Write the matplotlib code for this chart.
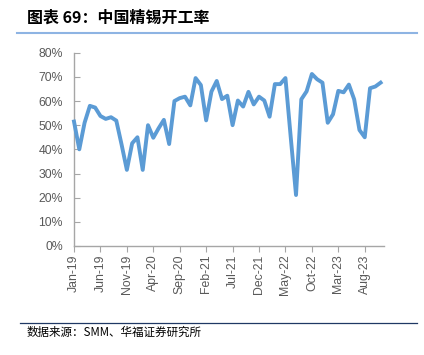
import matplotlib
matplotlib.use("Agg")
import matplotlib.pyplot as plt
from matplotlib.ticker import FuncFormatter, FixedLocator
import pandas as pd

plt.rcParams['font.family'] = ['Liberation Sans', 'Noto Sans CJK SC', 'DejaVu Sans']

# Data: monthly refined tin operating rate (%), Jan-19 .. Nov-23
months = pd.date_range("2019-01-01", periods=59, freq="MS")
rate = [51.5, 40.0, 51.0, 58.0, 57.3, 53.8, 52.6, 53.3, 51.9, 42.0,
        31.5, 42.5, 45.0, 31.5, 50.0, 44.8, 48.7, 52.2, 42.2, 60.0,
        61.2, 61.8, 58.2, 69.5, 66.6, 52.0, 63.9, 68.3, 60.8, 62.2,
        50.0, 60.2, 57.7, 63.8, 58.6, 61.8, 60.2, 53.5, 67.0, 67.0,
        69.5, 45.0, 21.1, 60.7, 64.0, 71.2, 69.0, 67.6, 51.0, 54.5,
        64.2, 63.6, 66.8, 60.7, 48.0, 45.0, 65.3, 66.0, 67.6]
tick_step = 5
yticks = [0, 10, 20, 30, 40, 50, 60, 70, 80]

title = "图表 69：中国精锡开工率"
source = "数据来源：SMM、华福证券研究所"

fig = plt.figure(figsize=(4.24, 3.55), dpi=100)
ax = fig.add_axes([74/424, 1-246/355, (384.3-74)/424, (246-52.7)/355])

x = list(range(len(rate)))
ax.plot(x, rate, color="#5B9BD5", lw=2.8, solid_joinstyle="round",
        clip_on=False, zorder=3)

ax.set_ylim(0, 80)
ax.set_xlim(0, 58.7)
ax.yaxis.set_major_locator(FixedLocator(yticks))
ax.yaxis.set_major_formatter(FuncFormatter(lambda v, p: f"{int(v)}%"))
tpos = list(range(0, len(rate), tick_step))
ax.set_xticks(tpos)
ax.set_xticklabels([months[i].strftime("%b-%y") for i in tpos], rotation=90)

for s in ["top", "right"]:
    ax.spines[s].set_visible(False)
for s in ["left", "bottom"]:
    ax.spines[s].set_color("#A6A6A6")
    ax.spines[s].set_linewidth(1.0)
ax.tick_params(axis="y", direction="in", length=4, color="#A6A6A6",
               labelsize=8.8, labelcolor="#595959", pad=8)
ax.tick_params(axis="x", direction="out", length=4, color="#A6A6A6",
               labelsize=8.8, labelcolor="#595959", pad=2)

# Title and decorations
fig.text(27/424, 1-18/355, title, fontsize=11.5, fontweight="bold",
         va="center", ha="left", family=['Noto Sans CJK SC', 'DejaVu Sans'])
fig.add_artist(plt.Line2D([17/424, 417/424], [1-33/355, 1-33/355],
                          color="#8EB4E3", lw=1.5))
fig.add_artist(plt.Line2D([20/424, 417/424], [1-322.7/355, 1-322.7/355],
                          color="#1F3864", lw=0.9))
fig.text(27/424, 1-332/355, source, fontsize=8.3, va="center", ha="left",
         family=['Noto Sans CJK SC', 'DejaVu Sans'])

fig.savefig("out.png", dpi=100)
